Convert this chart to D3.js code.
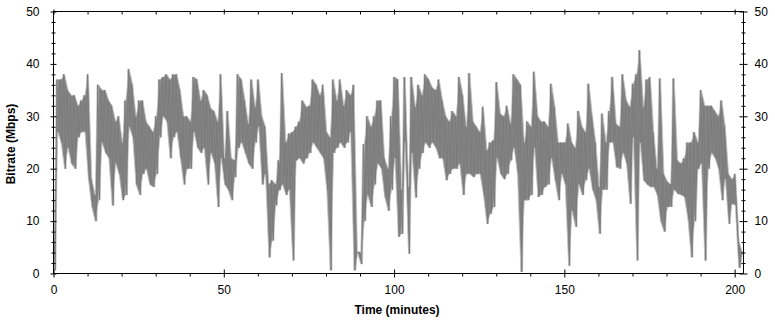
<!DOCTYPE html>
<html>
<head>
<meta charset="utf-8">
<script src="https://cdn.jsdelivr.net/npm/d3@7"></script>
<style>
  body { margin: 0; background: #fff; }
  text { font-family: "Liberation Sans", Arial, sans-serif; }
</style>
</head>
<body>
<svg id="chart" width="775" height="323"></svg>
<script>
// per-minute envelope of the bitrate trace (Mbps)
const peakMbps = [
  10, 37, 37, 38, 35, 34, 34, 32, 33, 34,
  38, 18, 15, 36, 35, 35, 33, 32, 29, 30,
  25, 33, 39, 36, 30, 33, 33, 29, 28, 27,
  30, 37, 37.5, 38, 37, 38, 38, 35, 30, 30,
  29, 37.5, 37, 33, 35, 34, 31.5, 31, 29, 38,
  22, 31, 22, 21.6, 38, 37, 33, 28.6, 37, 31.8,
  37, 30, 28, 17, 17.8, 17, 21.6, 38.2, 25, 26.7,
  27, 28, 29, 33, 31.8, 32, 37, 36, 34, 36,
  27, 26, 37, 33, 37, 32, 35, 34, 36, 4,
  4, 24.7, 30, 28, 30, 33, 33, 22, 20, 30,
  37.5, 37, 16, 37.5, 16.5, 37.5, 31.8, 36, 34, 38,
  37, 35.5, 35, 37, 33, 30, 29, 31, 30, 37.5,
  34, 28, 38.2, 29, 28, 27, 31.8, 23.5, 25, 25.4,
  36.5, 30.5, 30, 32, 28.6, 38, 37, 36, 25, 29,
  28, 38.5, 30, 29, 29, 28, 36.2, 31.8, 25, 25,
  25, 28.6, 25, 24, 31, 28, 27, 36.2, 30, 25,
  16.5, 30.5, 25, 31, 37.5, 28.6, 28, 38, 33, 31.8,
  36.2, 38, 42.6, 31.8, 37, 37.5, 27, 20, 37.2, 19,
  17.6, 17, 37.2, 21.6, 21, 22, 25, 25, 27, 25,
  35, 32, 32, 32, 31, 30, 33, 28, 19, 18,
  19, 6.3, 4
];
const troughMbps = [
  0.6, 27, 25, 20, 24, 21, 20, 26, 27, 27,
  18, 12.7, 10, 14, 25, 23, 22, 13, 21, 19,
  14, 15, 28, 26, 17, 15, 19, 20, 17, 16.5,
  19, 26, 30, 29, 22, 26, 27, 22, 17, 20,
  20, 27, 24, 23, 24, 17, 23, 21, 12.7, 22,
  17, 16, 14, 18.4, 24, 25, 23, 21, 20, 25,
  28, 17, 19, 3.1, 6.3, 13, 15.9, 17, 15, 16,
  2.5, 21.6, 22, 21, 22, 23, 25, 24, 23, 22,
  16, 0.6, 23, 24, 25, 24, 25, 27, 0.6, 4,
  1.8, 10, 15, 12.7, 17, 21, 20, 14.6, 12, 16,
  22, 7, 7.6, 25, 3.8, 23, 14.5, 20, 23, 25,
  24, 25, 24, 22, 22, 17.8, 19, 20, 20, 21,
  15, 19, 19, 18.4, 19, 19, 15, 9.5, 11.4, 12.7,
  22, 19, 18, 19, 21.6, 24, 19, 0.3, 14, 14,
  15, 24, 14.6, 15, 16.5, 17, 22, 17.8, 14, 19,
  17, 1.5, 12, 8.9, 17, 15, 17.8, 20, 16, 14,
  7.6, 16, 16, 25, 25, 20.3, 20, 23, 21, 13.3,
  26, 2.5, 25, 17.8, 17, 16.5, 16.5, 15, 10, 8,
  12.7, 12.7, 16, 15.2, 15, 14.6, 10.5, 3.1, 10, 20,
  21, 2.5, 20, 23, 22, 20, 14, 18, 9.5, 13.3,
  13, 1.1, 4
];
const endMinute = 202.6;
const endMbps = 4;

const xMajorTicks = [0, 50, 100, 150, 200];
const xMinorTicks = [10, 20, 30, 40, 60, 70, 80, 90, 110, 120, 130, 140, 160, 170, 180, 190];
const yMajorTicks = [0, 10, 20, 30, 40, 50];
const yMinorTicks = [2, 4, 6, 8, 12, 14, 16, 18, 22, 24, 26, 28, 32, 34, 36, 38, 42, 44, 46, 48];

const svg = d3.select("#chart");
const plotLeft = 53.5, plotRight = 743.5, plotTop = 11.5, plotBottom = 273.5;

const x = d3.scaleLinear().domain([0, endMinute]).range([plotLeft, plotRight]);
const y = d3.scaleLinear().domain([0, 50]).range([plotBottom, plotTop]);

// trace: each minute goes peak -> trough
const points = [];
peakMbps.forEach((p, i) => {
  points.push([i, p]);
  points.push([i + 0.5, troughMbps[i]]);
});
points.push([endMinute, endMbps]);

// band between trough and peak of each minute
const band = peakMbps.map((p, i) => ({t: i + 0.25, hi: p, lo: troughMbps[i]}));
band.push({t: endMinute, hi: endMbps, lo: endMbps});

svg.append("clipPath").attr("id", "plot")
  .append("rect")
  .attr("x", plotLeft).attr("y", plotTop)
  .attr("width", plotRight - plotLeft).attr("height", plotBottom - plotTop);

const line = d3.line().x(d => x(d[0])).y(d => y(d[1]));
const area = d3.area().x(d => x(d.t)).y0(d => y(d.lo)).y1(d => y(d.hi));
const trace = svg.append("g").attr("clip-path", "url(#plot)");
trace.append("path")
  .attr("d", line(points))
  .attr("fill", "none")
  .attr("stroke", "#cdcdcd")
  .attr("stroke-width", 2.6);
trace.append("path")
  .attr("d", area(band))
  .attr("fill", "#858585")
  .attr("stroke", "#c4c4c4")
  .attr("stroke-width", 0.8);
trace.append("path")
  .attr("d", line(points))
  .attr("fill", "none")
  .attr("stroke", "#7c7c7c")
  .attr("stroke-width", 1);

function styleAxis(g) {
  g.attr("font-family", null).attr("font-size", null);
  g.select(".domain").remove();
  g.selectAll("line").attr("stroke", "#000");
  g.selectAll("text").attr("fill", "#000").style("font-size", "12px");
}

// frame
svg.append("rect")
  .attr("x", plotLeft).attr("y", plotTop)
  .attr("width", plotRight - plotLeft).attr("height", plotBottom - plotTop)
  .attr("fill", "none").attr("stroke", "#000");

// left axis
svg.append("g").attr("transform", `translate(${plotLeft},0)`)
  .call(d3.axisLeft(y).tickValues(yMajorTicks).tickSize(3).tickPadding(11)).call(styleAxis);
svg.append("g").attr("transform", `translate(${plotLeft},0)`)
  .call(d3.axisRight(y).tickValues(yMajorTicks).tickSize(3).tickFormat("")).call(styleAxis);
svg.append("g").attr("transform", `translate(${plotLeft},0)`)
  .call(d3.axisLeft(y).tickValues(yMinorTicks).tickSize(2).tickFormat("")).call(styleAxis);
svg.append("g").attr("transform", `translate(${plotLeft},0)`)
  .call(d3.axisRight(y).tickValues(yMinorTicks).tickSize(2).tickFormat("")).call(styleAxis);

// right axis
svg.append("g").attr("transform", `translate(${plotRight},0)`)
  .call(d3.axisRight(y).tickValues(yMajorTicks).tickSize(4).tickPadding(7)).call(styleAxis);
svg.append("g").attr("transform", `translate(${plotRight},0)`)
  .call(d3.axisLeft(y).tickValues(yMajorTicks).tickSize(4).tickFormat("")).call(styleAxis);
svg.append("g").attr("transform", `translate(${plotRight},0)`)
  .call(d3.axisRight(y).tickValues(yMinorTicks).tickSize(2).tickFormat("")).call(styleAxis);
svg.append("g").attr("transform", `translate(${plotRight},0)`)
  .call(d3.axisLeft(y).tickValues(yMinorTicks).tickSize(2).tickFormat("")).call(styleAxis);

// bottom axis
svg.append("g").attr("transform", `translate(0,${plotBottom})`)
  .call(d3.axisBottom(x).tickValues(xMajorTicks).tickSize(4).tickPadding(8)).call(styleAxis);
svg.append("g").attr("transform", `translate(0,${plotBottom})`)
  .call(d3.axisTop(x).tickValues(xMajorTicks).tickSize(4).tickFormat("")).call(styleAxis);
svg.append("g").attr("transform", `translate(0,${plotBottom})`)
  .call(d3.axisBottom(x).tickValues(xMinorTicks).tickSize(3).tickFormat("")).call(styleAxis);

// top axis
svg.append("g").attr("transform", `translate(0,${plotTop})`)
  .call(d3.axisBottom(x).tickValues(xMajorTicks).tickSize(3).tickFormat("")).call(styleAxis);
svg.append("g").attr("transform", `translate(0,${plotTop})`)
  .call(d3.axisTop(x).tickValues(xMajorTicks).tickSize(2).tickFormat("")).call(styleAxis);
svg.append("g").attr("transform", `translate(0,${plotTop})`)
  .call(d3.axisBottom(x).tickValues(xMinorTicks).tickSize(3).tickFormat("")).call(styleAxis);

// axis titles
svg.append("text")
  .attr("transform", "translate(15,144) rotate(-90)")
  .attr("text-anchor", "middle")
  .style("font-size", "12px")
  .style("font-weight", "bold")
  .text("Bitrate (Mbps)");
svg.append("text")
  .attr("x", 397).attr("y", 314)
  .attr("text-anchor", "middle")
  .style("font-size", "12px")
  .style("font-weight", "bold")
  .text("Time (minutes)");
</script>
</body>
</html>
